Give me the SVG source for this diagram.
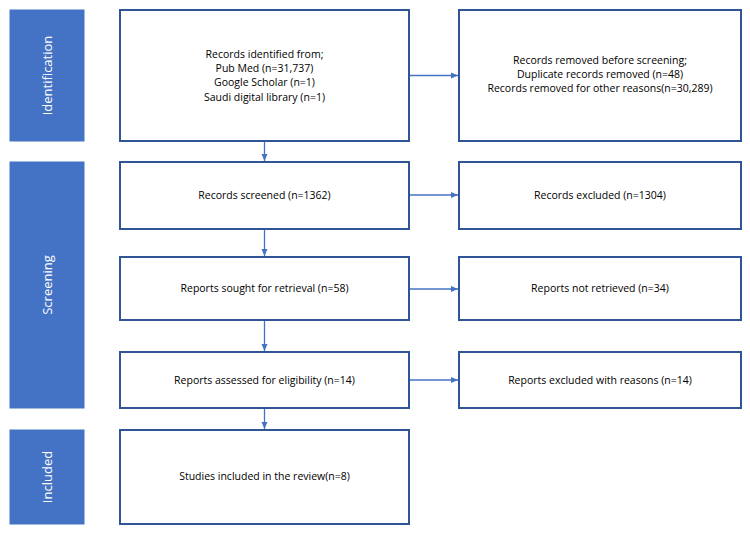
<svg xmlns="http://www.w3.org/2000/svg" width="750" height="534" viewBox="0 0 750 534">
<style>
.band{fill:#4472C4;stroke:#4472C4;stroke-width:1}
.box{fill:#fff;stroke:#2F5597;stroke-width:2}
.bt{font-family:"Open Sans","Liberation Sans",sans-serif;font-size:10.5px;fill:#000;text-anchor:middle}
.lt{font-family:"Open Sans","Liberation Sans",sans-serif;font-size:13px;fill:#fff;text-anchor:middle}
.c{stroke:#4472C4;stroke-width:1.3;fill:none;marker-end:url(#a)}
</style>
<defs><marker id="a" markerWidth="8" markerHeight="8" refX="7" refY="4" orient="auto" markerUnits="userSpaceOnUse"><path d="M0,1 L7,4 L0,7z" fill="#4472C4"/></marker></defs>
<rect width="750" height="534" fill="#fff"/>
<g id="band-identification"><rect class="band" x="10" y="10" width="74" height="131"/><text class="lt" transform="translate(52,75.5) rotate(-90)">Identification</text></g>
<g id="band-screening"><rect class="band" x="10" y="162" width="74" height="246"/><text class="lt" transform="translate(52,285) rotate(-90)">Screening</text></g>
<g id="band-included"><rect class="band" x="10" y="430" width="74" height="94"/><text class="lt" transform="translate(52,477) rotate(-90)">Included</text></g>
<g id="n1"><rect class="box" x="120" y="10" width="289" height="131"/><text class="bt" x="264.5" y="58">Records identified from;</text><text class="bt" x="264.5" y="72">Pub Med (n=31,737)</text><text class="bt" x="264.5" y="86">Google Scholar (n=1)</text><text class="bt" x="264.5" y="101">Saudi digital library (n=1)</text></g>
<g id="n2"><rect class="box" x="459" y="10" width="282" height="131"/><text class="bt" x="600" y="64">Records removed  before screening;</text><text class="bt" x="600" y="78">Duplicate records removed  (n=48)</text><text class="bt" x="600" y="92">Records removed  for other reasons(n=30,289)</text></g>
<g id="n3"><rect class="box" x="120" y="162" width="289" height="67"/><text class="bt" x="264.5" y="199">Records screened (n=1362)</text></g>
<g id="n4"><rect class="box" x="459" y="162" width="282" height="67"/><text class="bt" x="600" y="199">Records excluded (n=1304)</text></g>
<g id="n5"><rect class="box" x="120" y="257" width="289" height="63"/><text class="bt" x="264.5" y="292">Reports sought for retrieval (n=58)</text></g>
<g id="n6"><rect class="box" x="459" y="257" width="282" height="63"/><text class="bt" x="600" y="292">Reports not retrieved (n=34)</text></g>
<g id="n7"><rect class="box" x="120" y="352" width="289" height="56"/><text class="bt" x="264.5" y="384">Reports assessed for eligibility (n=14)</text></g>
<g id="n8"><rect class="box" x="459" y="352" width="282" height="56"/><text class="bt" x="600" y="384">Reports excluded with reasons (n=14)</text></g>
<g id="n9"><rect class="box" x="120" y="430" width="289" height="94"/><text class="bt" x="264.5" y="480">Studies included in the review(n=8)</text></g>
<g id="connectors">
<path class="c" d="M410,75.5 H458"/>
<path class="c" d="M410,195 H458"/>
<path class="c" d="M410,289 H458"/>
<path class="c" d="M410,380 H458"/>
<path class="c" d="M264.5,142 V161"/>
<path class="c" d="M264.5,230 V256"/>
<path class="c" d="M264.5,321 V351"/>
<path class="c" d="M264.5,409 V429"/>
</g>
</svg>
